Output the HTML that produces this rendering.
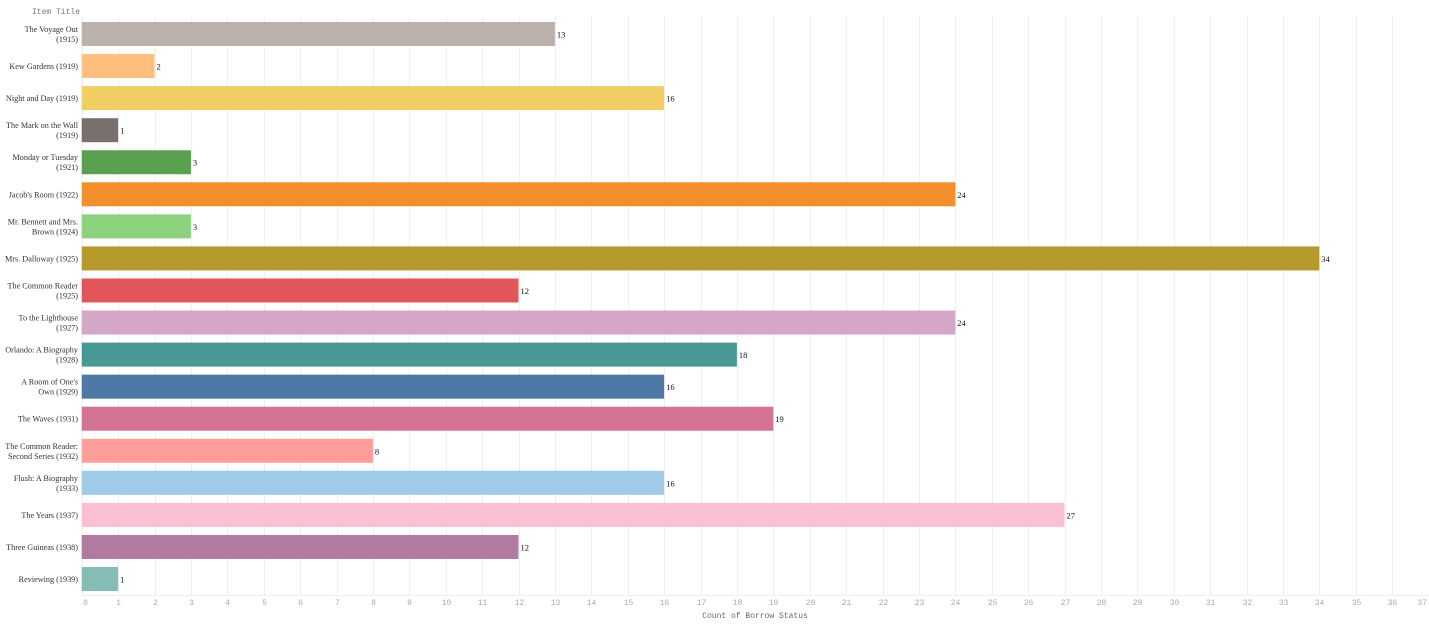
<!DOCTYPE html>
<html><head><meta charset="utf-8"><style>
html,body{margin:0;padding:0;background:#fff;}
svg{display:block;}
.l{font-family:"Liberation Serif",serif;font-size:8.2px;fill:#333;text-anchor:end;}
.v{font-family:"Liberation Serif",serif;font-size:8.5px;fill:#111;}
.t{font-family:"Liberation Mono",monospace;font-size:8px;fill:#aaa;}
</style></head><body>
<svg width="1429" height="624" xmlns="http://www.w3.org/2000/svg">
<g id="grid" stroke="#efefef" stroke-width="1"></g>
<g id="bars"></g>
<text class="t" x="32" y="14" style="fill:#777">Item Title</text>
<text class="t" x="755" y="618" text-anchor="middle" style="fill:#666">Count of Borrow Status</text>
<script>
var X0=81.7,U=36.4,ns="http://www.w3.org/2000/svg";
var g=document.getElementById('grid'),b=document.getElementById('bars'),svg=document.querySelector('svg');
function el(t,a,p,txt){var e=document.createElementNS(ns,t);for(var k in a)e.setAttribute(k,a[k]);if(txt!=null)e.textContent=txt;p.appendChild(e);return e;}
for(var i=0;i<=37;i++){var x=Math.round(X0+i*U)+0.5;el('line',{x1:x,x2:x,y1:16,y2:595},g);
 var a={'class':'t',x:(i==37?1427:x+(i==0?3:0)),y:605,'text-anchor':(i==37?'end':'middle')};el('text',a,svg,i);}
el('line',{x1:81,x2:1429,y1:595.5,y2:595.5},g);
var d=[["The Voyage Out|(1915)",13,"#bab0ac"],["Kew Gardens (1919)",2,"#ffbe7d"],["Night and Day (1919)",16,"#f1ce63"],["The Mark on the Wall|(1919)",1,"#79706e"],["Monday or Tuesday|(1921)",3,"#59a14f"],["Jacob's Room (1922)",24,"#f28e2b"],["Mr. Bennett and Mrs.|Brown (1924)",3,"#8cd17d"],["Mrs. Dalloway (1925)",34,"#b6992d"],["The Common Reader|(1925)",12,"#e15759"],["To the Lighthouse|(1927)",24,"#d4a6c8"],["Orlando: A Biography|(1928)",18,"#499894"],["A Room of One's|Own (1929)",16,"#4e79a7"],["The Waves (1931)",19,"#d37295"],["The Common Reader:|Second Series (1932)",8,"#ff9d9a"],["Flush: A Biography|(1933)",16,"#a0cbe8"],["The Years (1937)",27,"#fabfd2"],["Three Guineas (1938)",12,"#b07aa1"],["Reviewing (1939)",1,"#86bcb6"]];
d.forEach(function(r,i){var y=22+i*32.06;var w=r[1]*U;
el('rect',{x:X0,y:y,width:w,height:24,fill:r[2]},b);
el('text',{'class':'v',x:X0+w+2,y:y+15.5},b,r[1]);
var ls=r[0].split('|');
if(ls.length==1)el('text',{'class':'l',x:78,y:y+15},b,ls[0]);
else{el('text',{'class':'l',x:78,y:y+10},b,ls[0]);el('text',{'class':'l',x:78,y:y+20},b,ls[1]);}
});
</script>
</svg>
</body></html>
